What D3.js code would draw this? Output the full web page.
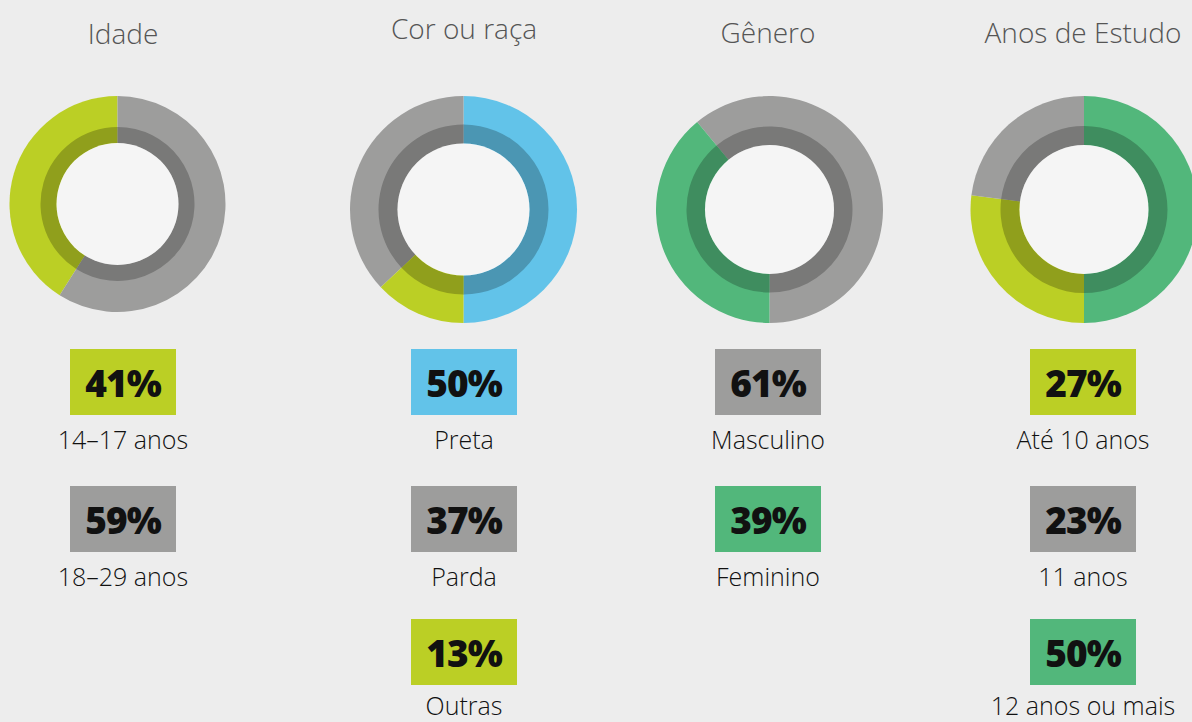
<!DOCTYPE html>
<html>
<head>
<meta charset="utf-8">
<script src="https://cdn.jsdelivr.net/npm/d3@7"></script>
<style>
  body { margin: 0; background: #ededed; overflow: hidden; }
  svg { display: block; }
</style>
</head>
<body>
<div class="graph"></div>
<script>
// data
var titles = ["Idade", "Cor ou raça", "Gênero", "Anos de Estudo"];

var idadeLabels = ["14–17 anos", "18–29 anos"];
var idadeValues = [41, 59];

var corLabels = ["Preta", "Parda", "Outras"];
var corValues = [50, 37, 13];

var generoLabels = ["Masculino", "Feminino"];
var generoValues = [61, 39];

var estudoLabels = ["Até 10 anos", "11 anos", "12 anos ou mais"];
var estudoValues = [27, 23, 50];

// colours
var lime = "#bbcf25", grey = "#9d9d9c", blue = "#62c3e9", green = "#52b77b";

var groups = [
  {labels: idadeLabels, values: idadeValues, colors: [lime, grey], order: [1, 0], start: 0},
  {labels: corLabels, values: corValues, colors: [blue, grey, lime], order: [0, 2, 1], start: 0},
  {labels: generoLabels, values: generoValues, colors: [grey, green], order: [1, 0], start: Math.PI},
  {labels: estudoLabels, values: estudoValues, colors: [lime, grey, green], order: [2, 0, 1], start: 0}
];

// layout
var basewidth = 1192, baseheight = 722;
var colX = [123, 464, 768, 1083];
var titleY = [44, 39, 43, 43];
var donuts = [
  {cx: 117.5, cy: 204, r: 108, ring: 77, hole: 61},
  {cx: 463.5, cy: 209.5, r: 113.5, ring: 85, hole: 66},
  {cx: 769.5, cy: 209.5, r: 113.5, ring: 83, hole: 64.5},
  {cx: 1084, cy: 209.5, r: 113.5, ring: 83.5, hole: 64.5}
];
var rowY = [349, 486, 619];
var labelDy = [100, 100, 96];
var boxW = 106, boxH = 66;

var svg = d3.select('.graph')
    .append('svg')
    .attr('width', basewidth)
    .attr('height', baseheight)
    .style('font-family', '"Open Sans", sans-serif');

svg.append('rect')
    .attr('width', basewidth)
    .attr('height', baseheight)
    .attr('fill', '#ededed');

groups.forEach(function(g, gi) {
  var dn = donuts[gi];
  var items = g.values.map(function(v, i) {
    return {value: v, label: g.labels[i], color: g.colors[i], rank: g.order.indexOf(i)};
  });

  var pie = d3.pie()
      .value(function(d) { return d.value; })
      .sort(function(a, b) { return a.rank - b.rank; })
      .startAngle(g.start)
      .endAngle(g.start + 2 * Math.PI);

  var arcs = pie(items);
  var outer = d3.arc().innerRadius(0).outerRadius(dn.r);
  var inner = d3.arc().innerRadius(dn.hole).outerRadius(dn.ring);

  var dg = svg.append('g')
      .attr('transform', 'translate(' + dn.cx + ',' + dn.cy + ')');

  dg.selectAll('path.outer')
      .data(arcs)
      .enter().append('path')
      .attr('class', 'outer')
      .attr('d', outer)
      .attr('fill', function(d) { return d.data.color; });

  dg.selectAll('path.inner')
      .data(arcs)
      .enter().append('path')
      .attr('class', 'inner')
      .attr('d', inner)
      .attr('fill', function(d) { return d3.interpolateRgb(d.data.color, '#000')(0.23); });

  dg.append('circle')
      .attr('r', dn.hole)
      .attr('fill', '#f5f5f5');

  // title
  svg.append('text')
      .attr('x', colX[gi])
      .attr('y', titleY[gi])
      .attr('text-anchor', 'middle')
      .style('font-size', '28px')
      .style('font-weight', 300)
      .style('fill', '#555')
      .text(titles[gi]);

  // boxes with percentage and label
  items.forEach(function(d, i) {
    var y = rowY[i];
    svg.append('rect')
        .attr('x', colX[gi] - boxW / 2)
        .attr('y', y)
        .attr('width', boxW)
        .attr('height', boxH)
        .attr('fill', d.color);

    svg.append('text')
        .attr('x', colX[gi])
        .attr('y', y + 48)
        .attr('text-anchor', 'middle')
        .style('font-size', '37px')
        .style('font-weight', 800)
        .style('letter-spacing', '-1px')
        .style('fill', '#111')
        .text(d.value + '%');

    svg.append('text')
        .attr('x', colX[gi])
        .attr('y', y + labelDy[i])
        .attr('text-anchor', 'middle')
        .style('font-size', '25px')
        .style('font-weight', 300)
        .style('fill', '#111')
        .text(d.label);
  });
});
</script>
</body>
</html>
